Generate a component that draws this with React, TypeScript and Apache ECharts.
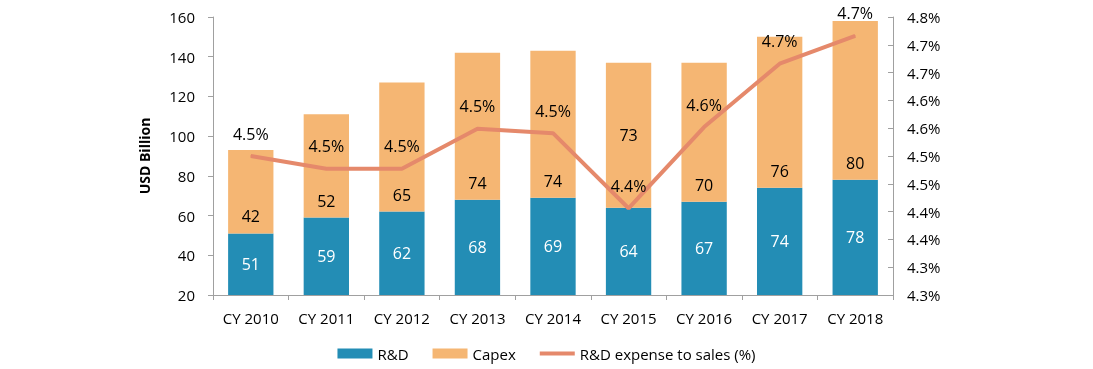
import React, { useEffect, useRef } from "react";
import * as echarts from "echarts";

const categories = ["CY 2010", "CY 2011", "CY 2012", "CY 2013", "CY 2014", "CY 2015", "CY 2016", "CY 2017", "CY 2018"];
const rdValues = [51, 59, 62, 68, 69, 64, 67, 74, 78];
const capexValues = [42, 52, 65, 74, 74, 73, 70, 76, 80];
const ratioValues = [4.5, 4.477, 4.477, 4.549, 4.541, 4.406, 4.552, 4.666, 4.716];
// Capex labels sit near the base of the segment, except CY 2015 (centred)
const capexCentredLabel = [false, false, false, false, false, true, false, false, false];

const FONT = "'Open Sans', 'Noto Sans', sans-serif";
const fmt1 = (v: number) => (Math.round(v * 10 + 1e-6) / 10).toFixed(1) + "%";

export default function App() {
  const ref = useRef<HTMLDivElement>(null);
  useEffect(() => {
    if (!ref.current) return;
    const chart = echarts.init(ref.current, undefined, { renderer: "svg" });
    chart.setOption({
      animation: false,
      textStyle: { fontFamily: FONT },
      grid: { left: 213, right: 200, top: 17, bottom: 74, containLabel: false },
      legend: {
        left: "center",
        top: 341,
        itemWidth: 35,
        itemHeight: 10,
        itemGap: 24,
        textStyle: { fontSize: 15, color: "#000", fontFamily: FONT },
        data: [
          { name: "R&D", icon: "rect" },
          { name: "Capex", icon: "rect" },
          { name: "R&D expense to sales (%)", icon: "path://M0,0 L35,0 L35,4 L0,4 Z" },
        ],
      },
      xAxis: {
        type: "category",
        data: categories,
        axisLine: { lineStyle: { color: "#A0A0A0" } },
        axisTick: { show: true, length: 5, lineStyle: { color: "#A0A0A0" } },
        axisLabel: { fontSize: 15, color: "#000", margin: 15 },
      },
      yAxis: [
        {
          type: "value",
          min: 20,
          max: 160,
          interval: 20,
          name: "USD Billion",
          nameLocation: "middle",
          nameGap: 62,
          nameTextStyle: { fontSize: 14, fontWeight: "bold", color: "#000" },
          axisLine: { show: true, lineStyle: { color: "#A0A0A0" } },
          axisTick: { show: true, length: 5, lineStyle: { color: "#A0A0A0" } },
          axisLabel: { fontSize: 15, color: "#000", margin: 18 },
          splitLine: { show: false },
        },
        {
          type: "value",
          min: 4.25,
          max: 4.75,
          interval: 0.05,
          position: "right",
          axisLine: { show: true, lineStyle: { color: "#A0A0A0" } },
          axisTick: { show: true, inside: true, length: 5, lineStyle: { color: "#A0A0A0" } },
          axisLabel: { fontSize: 15, color: "#000", margin: 14, formatter: (v: number) => fmt1(v) },
          splitLine: { show: false },
        },
      ],
      series: [
        {
          name: "R&D",
          type: "bar",
          stack: "total",
          barCategoryGap: "40%",
          data: rdValues,
          itemStyle: { color: "#238DB5" },
          label: { show: true, position: "inside", color: "#fff", fontSize: 16 },
        },
        {
          name: "Capex",
          type: "bar",
          stack: "total",
          data: capexValues.map((v, i) =>
            capexCentredLabel[i] ? { value: v, label: { position: "inside" } } : v
          ),
          itemStyle: { color: "#F5B673" },
          label: { show: true, position: "insideBottom", distance: 9, color: "#000", fontSize: 16 },
        },
        {
          name: "R&D expense to sales (%)",
          type: "line",
          yAxisIndex: 1,
          data: ratioValues,
          symbol: "circle",
          symbolSize: 1,
          showSymbol: true,
          lineStyle: { color: "#E5896B", width: 4 },
          itemStyle: { color: "#E5896B" },
          label: {
            show: true,
            position: "top",
            distance: 14,
            color: "#000",
            fontSize: 16,
            formatter: (p: any) => fmt1(p.value),
          },
        },
      ],
    });
    return () => chart.dispose();
  }, []);
  return (
    <div
      ref={ref}
      style={{ position: "fixed", left: 0, top: 0, width: 1093, height: 369 }}
    />
  );
}
